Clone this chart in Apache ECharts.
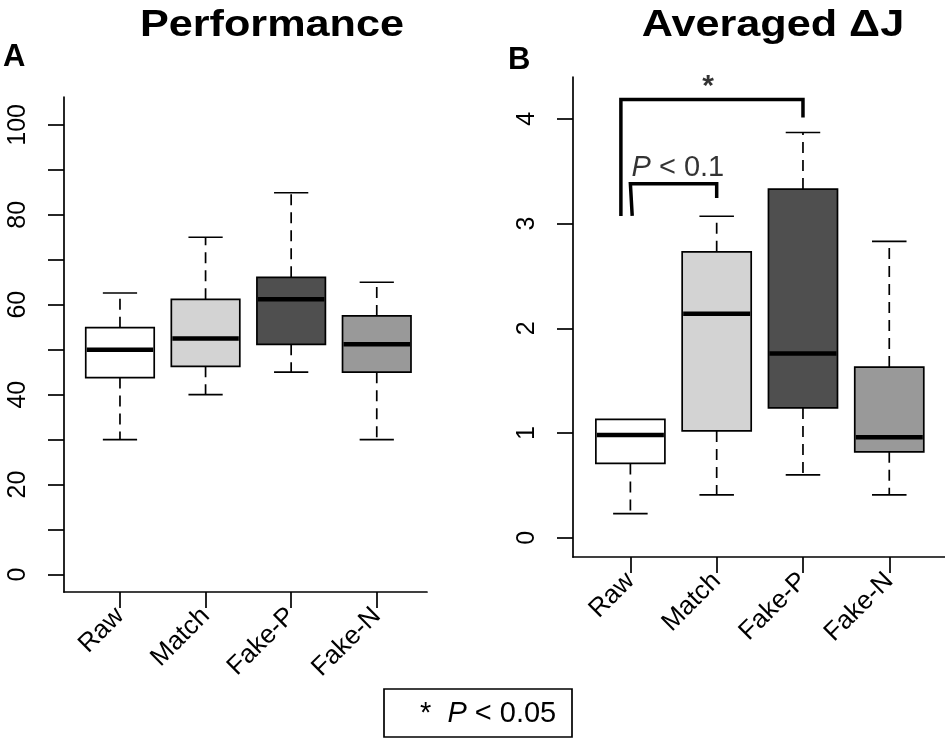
<!DOCTYPE html>
<html>
<head>
<meta charset="utf-8">
<script src="https://cdn.jsdelivr.net/npm/echarts@6/dist/echarts.min.js"></script>
<style>
html,body{margin:0;padding:0;background:#fff;}
#c{width:945px;height:741px;}
</style>
</head>
<body>
<div id="c"></div>
<script>
// ---- data ----
const categories = ['Raw', 'Match', 'Fake-P', 'Fake-N'];
// [lowerWhisker, Q1, median, Q3, upperWhisker]
const performance = [
  [30.0, 43.8, 50.0, 54.9, 62.6],
  [40.0, 46.3, 52.5, 61.2, 75.0],
  [45.0, 51.2, 61.2, 66.1, 84.9],
  [30.0, 45.0, 51.2, 57.5, 65.0]
];
const deltaJ = [
  [0.23, 0.71, 0.98, 1.13, 1.13],
  [0.41, 1.02, 2.14, 2.73, 3.07],
  [0.60, 1.24, 1.76, 3.33, 3.87],
  [0.41, 0.82, 0.96, 1.63, 2.83]
];
const perfTicks = [0, 10, 20, 30, 40, 50, 60, 70, 80, 90, 100];
const perfLabels = [0, 20, 40, 60, 80, 100];
const djTicks = [0, 1, 2, 3, 4];
// significance brackets (x, y) in data units of panel B
const bracketStar = [[0.89, 3.09], [0.89, 4.185], [3.0, 4.185], [3.0, 4.03]];
const bracketP01 = [[1.02, 3.09], [1.0, 3.38], [2.0, 3.38], [2.0, 3.26]];
const starLabel = [[1.9, 4.31]];
const p01Label = [[1.55, 3.53]];

const boxFills = ['#ffffff', '#d3d3d3', '#4f4f4f', '#999999'];
const FONT = 'Liberation Sans, Arial, Helvetica, sans-serif';

function boxRender(params, api) {
  const x = api.value(0);
  const lo = api.value(1), q1 = api.value(2), md = api.value(3), q3 = api.value(4), hi = api.value(5);
  const halfBox = 0.4, halfCap = 0.2;
  const pL = api.coord([x - halfBox, q3]);
  const pR = api.coord([x + halfBox, q1]);
  const c = api.coord([x, md]);
  const pLo = api.coord([x, lo]);
  const pHi = api.coord([x, hi]);
  const pQ1 = api.coord([x, q1]);
  const pQ3 = api.coord([x, q3]);
  const capL = api.coord([x - halfCap, lo])[0];
  const capR = api.coord([x + halfCap, lo])[0];
  const black = '#000';
  const children = [];
  children.push({type: 'line', shape: {x1: c[0], y1: pQ1[1], x2: c[0], y2: pLo[1]},
    style: {stroke: black, lineWidth: 1.7, lineDash: [11, 7]}});
  children.push({type: 'line', shape: {x1: c[0], y1: pQ3[1], x2: c[0], y2: pHi[1]},
    style: {stroke: black, lineWidth: 1.7, lineDash: [11, 7]}});
  children.push({type: 'line', shape: {x1: capL, y1: pLo[1], x2: capR, y2: pLo[1]},
    style: {stroke: black, lineWidth: 1.7}});
  if (hi > q3) {
    children.push({type: 'line', shape: {x1: capL, y1: pHi[1], x2: capR, y2: pHi[1]},
      style: {stroke: black, lineWidth: 1.7}});
  }
  children.push({type: 'rect', shape: {x: pL[0], y: pL[1], width: pR[0] - pL[0], height: pR[1] - pL[1]},
    style: {fill: boxFills[params.dataIndex], stroke: black, lineWidth: 1.7}});
  children.push({type: 'line', shape: {x1: pL[0] + 1, y1: c[1], x2: pR[0] - 1, y2: c[1]},
    style: {stroke: black, lineWidth: 4.5}});
  return {type: 'group', children: children};
}

function toItems(arr) {
  return arr.map((d, i) => [i + 1].concat(d));
}

const axisLineStyle = {show: true, onZero: false, lineStyle: {color: '#000', width: 1.7}};
const tickStyle = {show: true, length: 16, lineStyle: {color: '#000', width: 1.7}};

const chart = echarts.init(document.getElementById('c'), null, {renderer: 'canvas'});
const option = {
  backgroundColor: '#fff',
  animation: false,
  grid: [
    {left: 64, top: 97, width: 363, height: 495, outerBoundsMode: 'none'},
    {left: 573, top: 77, width: 374, height: 480, outerBoundsMode: 'none'}
  ],
  xAxis: [0, 1].map(g => ({
    type: 'value', gridIndex: g,
    min: g === 0 ? 0.346 : 0.335, max: g === 0 ? 4.587 : 4.669,
    axisLine: axisLineStyle,
    axisTick: Object.assign({customValues: [1, 2, 3, 4]}, tickStyle),
    axisLabel: {customValues: [1, 2, 3, 4], rotate: 45, margin: 20,
      formatter: v => categories[Math.round(v) - 1], color: '#000',
      fontFamily: FONT, fontSize: 26},
    splitLine: {show: false}
  })),
  yAxis: [
    {type: 'value', gridIndex: 0, min: -3.9, max: 106.2,
      axisLine: axisLineStyle,
      axisTick: Object.assign({customValues: perfTicks}, tickStyle),
      axisLabel: {customValues: perfLabels, rotate: 90, margin: 33, color: '#000',
        fontFamily: FONT, fontSize: 25},
      splitLine: {show: false}},
    {type: 'value', gridIndex: 1, min: -0.184, max: 4.40,
      axisLine: axisLineStyle,
      axisTick: Object.assign({customValues: djTicks}, tickStyle),
      axisLabel: {customValues: djTicks, rotate: 90, margin: 33, color: '#000',
        fontFamily: FONT, fontSize: 25},
      splitLine: {show: false}}
  ],
  series: [
    {type: 'custom', xAxisIndex: 0, yAxisIndex: 0, renderItem: boxRender,
      data: toItems(performance), encode: {x: 0, y: [1, 5]}},
    {type: 'custom', xAxisIndex: 1, yAxisIndex: 1, renderItem: boxRender,
      data: toItems(deltaJ), encode: {x: 0, y: [1, 5]}},
    {type: 'line', xAxisIndex: 1, yAxisIndex: 1, data: bracketStar, symbol: 'none',
      lineStyle: {color: '#000', width: 3.5, cap: 'square', join: 'miter'}},
    {type: 'line', xAxisIndex: 1, yAxisIndex: 1, data: bracketP01, symbol: 'none',
      lineStyle: {color: '#000', width: 3.5, cap: 'square', join: 'miter'}},
    {type: 'scatter', xAxisIndex: 1, yAxisIndex: 1, data: starLabel, symbolSize: 0,
      label: {show: true, position: 'inside', formatter: '*', color: '#000',
        fontFamily: FONT, fontSize: 30, fontWeight: 'bold'}},
    {type: 'scatter', xAxisIndex: 1, yAxisIndex: 1, data: p01Label, symbolSize: 0,
      label: {show: true, position: 'inside', formatter: '{i|P} < 0.1', color: '#000',
        fontFamily: FONT, fontSize: 29,
        rich: {i: {fontStyle: 'italic', fontFamily: FONT, fontSize: 29, color: '#000'}}}}
  ],
  graphic: [
    {type: 'text', x: 272, y: 26, scaleX: 1.2,
      style: {text: 'Performance', font: 'bold 36px ' + FONT, fill: '#000', align: 'center', verticalAlign: 'middle'}},
    {type: 'text', x: 773, y: 26, scaleX: 1.2,
      style: {text: 'Averaged \u0394J', font: 'bold 36px ' + FONT, fill: '#000', align: 'center', verticalAlign: 'middle'}},
    {type: 'text', x: 3, y: 57,
      style: {text: 'A', font: 'bold 31px ' + FONT, fill: '#000', align: 'left', verticalAlign: 'middle'}},
    {type: 'text', x: 508, y: 60,
      style: {text: 'B', font: 'bold 31px ' + FONT, fill: '#000', align: 'left', verticalAlign: 'middle'}},
    {type: 'rect', shape: {x: 384, y: 689, width: 188, height: 48},
      style: {fill: '#fff', stroke: '#000', lineWidth: 1.7}},
    {type: 'text', x: 420, y: 714,
      style: {text: '*  {i|P} < 0.05', font: '29px ' + FONT, fill: '#000', align: 'left', verticalAlign: 'middle',
        rich: {i: {fontStyle: 'italic', fontSize: 29, fontFamily: FONT}}}}
  ]
};
chart.setOption(option);
</script>
</body>
</html>
